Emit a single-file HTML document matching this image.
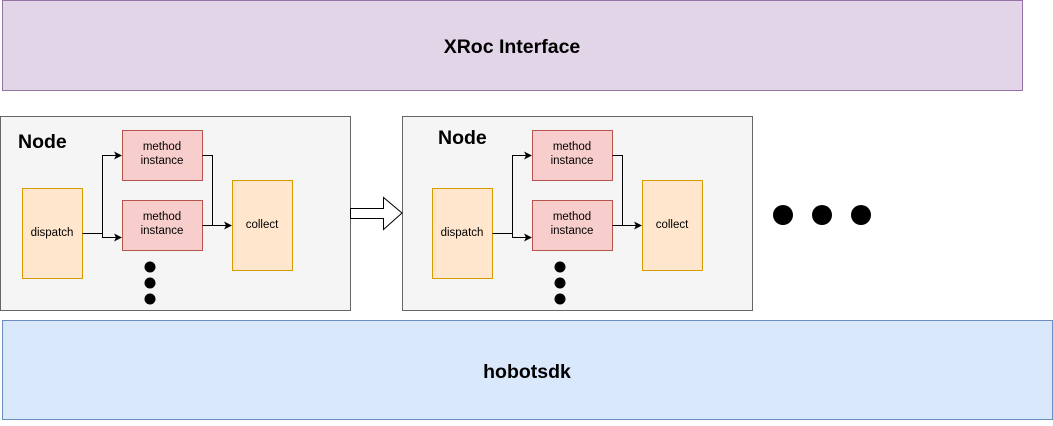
<!DOCTYPE html>
<html><head><style>body{margin:0;background:#fff}</style></head><body>
<svg width="1053" height="421" xmlns="http://www.w3.org/2000/svg" font-family="Liberation Sans, Arial, sans-serif">
<defs><marker id="a" markerWidth="8" markerHeight="8" refX="7" refY="4" orient="auto" markerUnits="userSpaceOnUse"><path d="M0,0 L8,4 L0,8 L2,4 Z" fill="#000"/></marker></defs>
<rect x="2.5" y="0.5" width="1020" height="90" fill="#e1d5e7" stroke="#9673a6"/>
<text x="512" y="53" text-anchor="middle" font-size="19.5" font-weight="bold">XRoc Interface</text>
<rect x="2.5" y="320.5" width="1050" height="99" fill="#dae8fc" stroke="#6c8ebf"/>
<text x="527" y="378" text-anchor="middle" font-size="19.5" font-weight="bold">hobotsdk</text>
<rect x="0.5" y="116.5" width="350" height="194" fill="#f5f5f5" stroke="#666"/>
<text x="18" y="148" font-size="19.5" font-weight="bold">Node</text>
<rect x="402.5" y="116.5" width="350" height="194" fill="#f5f5f5" stroke="#666"/>
<text x="438" y="144" font-size="19.5" font-weight="bold">Node</text>
<g id="n">
<rect x="22.5" y="188.5" width="60" height="90" fill="#ffe6cc" stroke="#d79b00"/>
<text x="52" y="236" text-anchor="middle" font-size="11.5">dispatch</text>
<rect x="122.5" y="130.5" width="80" height="50" fill="#f8cecc" stroke="#b85450"/>
<text x="162" y="150" text-anchor="middle" font-size="11.5">method</text>
<text x="162" y="164" text-anchor="middle" font-size="11.5">instance</text>
<rect x="122.5" y="200.5" width="80" height="50" fill="#f8cecc" stroke="#b85450"/>
<text x="162" y="220" text-anchor="middle" font-size="11.5">method</text>
<text x="162" y="234" text-anchor="middle" font-size="11.5">instance</text>
<rect x="232.5" y="180.5" width="60" height="90" fill="#ffe6cc" stroke="#d79b00"/>
<text x="262" y="228" text-anchor="middle" font-size="11.5">collect</text>
<path d="M82.5,233.5 H102.5 V155.5 H121" fill="none" stroke="#000" marker-end="url(#a)"/>
<path d="M102.5,233.5 V237.5 H121" fill="none" stroke="#000" marker-end="url(#a)"/>
<path d="M202.5,155.5 H212.5 V225.5 H231" fill="none" stroke="#000" marker-end="url(#a)"/>
<path d="M202.5,225.5 H231" fill="none" stroke="#000"/>
<circle cx="150" cy="267" r="5.5"/><circle cx="150" cy="283" r="5.5"/><circle cx="150" cy="299" r="5.5"/>
</g>
<use href="#n" x="410"/>
<path d="M350.5,208.5 H383.5 V197.5 L402,213 L383.5,229.5 V218.5 H350.5 Z" fill="#fff" stroke="#000"/>
<circle cx="783" cy="215" r="10"/><circle cx="822" cy="215" r="10"/><circle cx="861" cy="215" r="10"/>
</svg>
</body></html>
